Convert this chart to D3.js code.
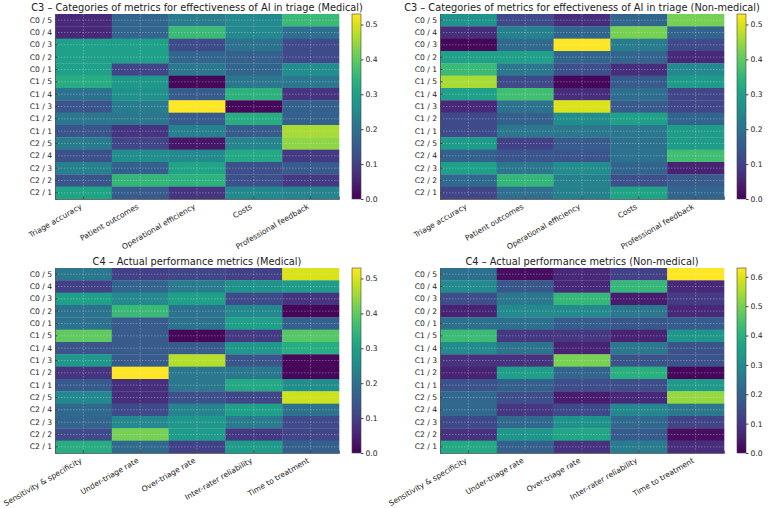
<!DOCTYPE html>
<html>
<head>
<meta charset="utf-8">
<script src="https://cdn.jsdelivr.net/npm/d3@7"></script>
<style>
  body { margin: 0; background: #fff; }
  svg text { font-family: "DejaVu Sans", sans-serif; fill: #222; }
</style>
</head>
<body>
<svg id="chart" width="780" height="508"></svg>
<script>
// row labels (cluster / rating), same for all four panels
var rowLabels = ["C0 / 5","C0 / 4","C0 / 3","C0 / 2","C0 / 1",
                 "C1 / 5","C1 / 4","C1 / 3","C1 / 2","C1 / 1",
                 "C2 / 5","C2 / 4","C2 / 3","C2 / 2","C2 / 1"];

var c3Metrics = ["Triage accuracy","Patient outcomes","Operational efficiency","Costs","Professional feedback"];
var c4Metrics = ["Sensitivity & specificity","Under-triage rate","Over-triage rate","Inter-rater reliability","Time to treatment"];

// values, one row per row label
var c3Medical = [
  [0.06,0.17,0.22,0.25,0.36],
  [0.06,0.17,0.36,0.25,0.19],
  [0.30,0.30,0.12,0.20,0.12],
  [0.30,0.30,0.17,0.16,0.12],
  [0.30,0.11,0.21,0.17,0.26],
  [0.33,0.28,0.01,0.21,0.21],
  [0.20,0.27,0.15,0.34,0.08],
  [0.14,0.22,0.53,0.01,0.16],
  [0.21,0.21,0.15,0.33,0.16],
  [0.14,0.08,0.23,0.15,0.46],
  [0.22,0.11,0.03,0.24,0.44],
  [0.13,0.26,0.25,0.32,0.09],
  [0.23,0.16,0.31,0.13,0.15],
  [0.14,0.35,0.34,0.13,0.09],
  [0.31,0.15,0.08,0.25,0.24]
];
var c3NonMedical = [
  [0.27,0.12,0.07,0.17,0.42],
  [0.07,0.23,0.17,0.42,0.17],
  [0.01,0.18,0.53,0.22,0.12],
  [0.30,0.30,0.17,0.17,0.06],
  [0.36,0.21,0.13,0.07,0.25],
  [0.46,0.12,0.01,0.15,0.29],
  [0.30,0.37,0.07,0.19,0.11],
  [0.06,0.20,0.50,0.15,0.11],
  [0.12,0.16,0.26,0.30,0.17],
  [0.12,0.21,0.21,0.21,0.29],
  [0.29,0.10,0.15,0.20,0.29],
  [0.16,0.14,0.14,0.20,0.37],
  [0.30,0.21,0.26,0.17,0.05],
  [0.18,0.35,0.23,0.13,0.15],
  [0.11,0.19,0.23,0.31,0.17]
];
var c4Medical = [
  [0.21,0.10,0.11,0.10,0.50],
  [0.10,0.17,0.22,0.27,0.29],
  [0.30,0.25,0.30,0.12,0.08],
  [0.20,0.36,0.20,0.25,0.01],
  [0.20,0.15,0.20,0.30,0.16],
  [0.40,0.15,0.01,0.09,0.39],
  [0.14,0.15,0.15,0.28,0.33],
  [0.28,0.15,0.47,0.14,0.01],
  [0.08,0.53,0.21,0.21,0.01],
  [0.15,0.07,0.21,0.32,0.26],
  [0.25,0.07,0.13,0.11,0.49],
  [0.18,0.12,0.24,0.30,0.20],
  [0.17,0.25,0.28,0.22,0.12],
  [0.12,0.42,0.29,0.09,0.11],
  [0.33,0.18,0.10,0.29,0.16]
];
var c4NonMedical = [
  [0.23,0.02,0.07,0.12,0.63],
  [0.30,0.17,0.07,0.42,0.07],
  [0.15,0.25,0.42,0.05,0.11],
  [0.06,0.30,0.30,0.25,0.07],
  [0.23,0.23,0.18,0.17,0.18],
  [0.43,0.10,0.10,0.06,0.33],
  [0.30,0.24,0.06,0.25,0.16],
  [0.09,0.09,0.50,0.16,0.16],
  [0.06,0.35,0.20,0.40,0.01],
  [0.16,0.19,0.15,0.15,0.34],
  [0.21,0.15,0.05,0.07,0.53],
  [0.21,0.10,0.14,0.29,0.25],
  [0.14,0.21,0.32,0.21,0.13],
  [0.09,0.33,0.37,0.18,0.02],
  [0.38,0.19,0.09,0.26,0.08]
];

var panels = [
  {title:"C3 – Categories of metrics for effectiveness of AI in triage (Medical)", cols:c3Metrics, data:c3Medical, x:55, y:14},
  {title:"C3 – Categories of metrics for effectiveness of AI in triage (Non-medical)", cols:c3Metrics, data:c3NonMedical, x:440, y:14},
  {title:"C4 – Actual performance metrics (Medical)", cols:c4Metrics, data:c4Medical, x:55, y:268},
  {title:"C4 – Actual performance metrics (Non-medical)", cols:c4Metrics, data:c4NonMedical, x:440, y:268}
];

var W = 284, H = 185;
var svg = d3.select("#chart");

// one gradient for all colorbars
var grad = svg.append("defs").append("linearGradient")
  .attr("id","viridis").attr("x1",0).attr("y1",1).attr("x2",0).attr("y2",0);
d3.range(0,1.0001,0.05).forEach(function(t){
  grad.append("stop").attr("offset",t).attr("stop-color",d3.interpolateViridis(t));
});

panels.forEach(function(p){
  var g = svg.append("g").attr("transform","translate("+p.x+","+p.y+")");
  var vmax = d3.max(p.data, function(r){ return d3.max(r); });
  var color = d3.scaleSequential(d3.interpolateViridis).domain([0, vmax]);

  var x = d3.scaleBand().domain(p.cols).range([0, W]);
  var y = d3.scaleBand().domain(rowLabels).range([0, H]);

  var cells = [];
  p.data.forEach(function(row, i){
    row.forEach(function(v, j){ cells.push({r:rowLabels[i], c:p.cols[j], v:v}); });
  });

  g.selectAll("rect.cell").data(cells).enter()
    .append("rect").attr("class","cell")
    .attr("x",function(d){ return x(d.c); })
    .attr("y",function(d){ return y(d.r); })
    .attr("width",x.bandwidth()+0.3)
    .attr("height",y.bandwidth()+0.3)
    .attr("fill",function(d){ return color(d.v); });

  // dotted grid at tick centres
  g.selectAll("line.vg").data(p.cols).enter().append("line")
    .attr("x1",function(d){ return x(d)+x.bandwidth()/2; })
    .attr("x2",function(d){ return x(d)+x.bandwidth()/2; })
    .attr("y1",0).attr("y2",H)
    .attr("stroke","#e8e8e8").attr("stroke-opacity",0.45)
    .attr("stroke-width",0.7).attr("stroke-dasharray","1.5,1.5");
  g.selectAll("line.hg").data(rowLabels).enter().append("line")
    .attr("y1",function(d){ return y(d)+y.bandwidth()/2; })
    .attr("y2",function(d){ return y(d)+y.bandwidth()/2; })
    .attr("x1",0).attr("x2",W)
    .attr("stroke","#e8e8e8").attr("stroke-opacity",0.45)
    .attr("stroke-width",0.7).attr("stroke-dasharray","1.5,1.5");

  var yAx = g.append("g").call(d3.axisLeft(y).tickSize(-2.5).tickPadding(3));
  yAx.selectAll("text").attr("font-size",7.6).style("fill","#222");
  yAx.selectAll("line").attr("stroke","#444");
  yAx.select(".domain").attr("stroke","#555").attr("stroke-width",0.8);

  var xAx = g.append("g").attr("transform","translate(0,"+H+")")
    .call(d3.axisBottom(x).tickSize(-2.5).tickPadding(3));
  xAx.selectAll("line").attr("stroke","#444");
  xAx.select(".domain").attr("stroke","#555").attr("stroke-width",0.8);
  xAx.selectAll("text")
    .attr("font-size",7.6).style("fill","#222")
    .attr("text-anchor","end")
    .attr("y",0).attr("dy",0)
    .attr("transform","translate(-1,9) rotate(-30)");

  g.append("text")
    .attr("x",W/2).attr("y",-3.5)
    .attr("text-anchor","middle")
    .attr("font-size",9.8)
    .text(p.title);

  // colorbar
  var cb = g.append("g").attr("transform","translate("+(W+13)+",0)");
  var cbScale = d3.scaleLinear().domain([0, vmax]).range([H, 0]);
  cb.append("rect").attr("width",9).attr("height",H).attr("fill","url(#viridis)")
    .attr("stroke","#444").attr("stroke-width",0.6);
  var cbAx = cb.append("g").attr("transform","translate(9,0)")
    .call(d3.axisRight(cbScale).tickValues(d3.range(0, vmax+1e-9, 0.1))
      .tickFormat(d3.format(".1f")).tickSize(2.5).tickPadding(2));
  cbAx.select(".domain").remove();
  cbAx.selectAll("line").attr("stroke","#444");
  cbAx.selectAll("text").attr("font-size",7.6).style("fill","#222");
});
</script>
</body>
</html>
